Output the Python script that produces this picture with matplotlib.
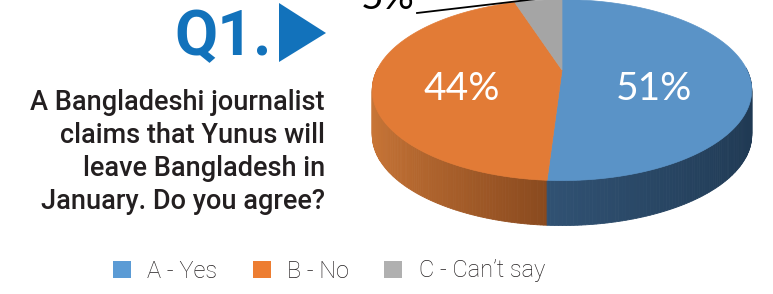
"""
Poll Q1 - 3D style pie (Yunus / January question)
"""

import numpy as np
import matplotlib.pyplot as plt
from matplotlib.patches import Patch, Polygon

# ------------------------------------------------------------
# DATA
# ------------------------------------------------------------
labels = ["A - Yes", "B - No", "C - Can\u2019t say"]
shares = [51, 44, 5]
pct_text = ["51%", "44%", "5%"]
top_colors = ["#5a93c7", "#e27b36", "#a5a5a5"]
legend_colors = ["#5b9bd5", "#ed7d31", "#b0b0b0"]
question = ("A Bangladeshi journalist\nclaims that Yunus will\n"
            "leave Bangladesh in\nJanuary. Do you agree?")

# side shading (light end, dark end) per slice
side_shades = [((0.19, 0.32, 0.45), (0.12, 0.22, 0.32)),
               ((0.80, 0.47, 0.22), (0.54, 0.29, 0.12)),
               ((0.45, 0.45, 0.45), (0.35, 0.35, 0.35))]

# ------------------------------------------------------------
# GEOMETRY (pixel-like axes)
# ------------------------------------------------------------
W, H = 773, 294
cx, cy = 562, 70          # pie centre on screen
rx, ry = 185, 86          # radii of the tilted disc
persp = 0.222             # far side gets squeezed
depth = 45                # thickness of the pie


def proj(t, r=1.0):
    X = r * np.cos(t)
    Z = r * np.sin(t)
    s = 1.0 / (1.0 + persp * Z)
    return cx + rx * X * s, cy - ry * Z * s


fig = plt.figure(figsize=(W / 100, H / 100), dpi=100)
ax = fig.add_axes([0, 0, 1, 1])
ax.set_xlim(0, W)
ax.set_ylim(H, 0)
ax.axis("off")

# slice angles: start at 12 o'clock, go clockwise
fracs = np.array(shares) / np.sum(shares)
starts = np.deg2rad(90) - 2 * np.pi * np.concatenate([[0], np.cumsum(fracs)[:-1]])
ends = starts - 2 * np.pi * fracs

# --- sides (only the front half shows) ---
quads = []
for i, (a0, a1) in enumerate(zip(starts, ends)):
    tt = np.linspace(a0, a1, 200)
    for k in range(len(tt) - 1):
        t0, t1 = tt[k], tt[k + 1]
        tm = 0.5 * (t0 + t1)
        if np.sin(tm) > 0.02:
            continue
        x0, y0 = proj(t0)
        x1, y1 = proj(t1)
        # colour: light at left/front edge, dark towards front / right
        light, dark = side_shades[i]
        if i == 0:
            f = np.clip((np.cos(tm) + 0.06) / 1.06, 0, 1)
        else:
            f = np.clip((np.cos(tm) + 1.0) / 0.94, 0, 1)
        col = tuple(l + (d - l) * f for l, d in zip(light, dark))
        quads.append((np.sin(tm), [(x0, y0), (x1, y1),
                                    (x1, y1 + depth), (x0, y0 + depth)], col))

for _, pts, col in sorted(quads, key=lambda q: -q[0]):
    ax.add_patch(Polygon(pts, closed=True, facecolor=col, edgecolor=col,
                         linewidth=0.6))

# --- top faces ---
for i, (a0, a1) in enumerate(zip(starts, ends)):
    tt = np.linspace(a0, a1, 300)
    xs, ys = proj(tt)
    pts = [(cx, cy)] + list(zip(xs, ys))
    ax.add_patch(Polygon(pts, closed=True, facecolor=top_colors[i],
                         edgecolor=top_colors[i], linewidth=0.5))

# --- value labels ---
ax.text(654, 89, pct_text[0], color="white", fontsize=28, family="Lato",
        ha="center", va="center")
ax.text(462, 89, pct_text[1], color="white", fontsize=28, family="Lato",
        ha="center", va="center")
ax.text(388, -2, pct_text[2], color="black", fontsize=28, family="Lato",
        ha="center", va="center", clip_on=False)
ax.plot([417, 545], [13, -2], color="black", linewidth=1.3)

# --- Q1 heading ---
ax.text(272, 38, "Q1.", color="#1272bb", fontsize=45, fontweight="bold",
        family=["Liberation Sans Narrow", "Roboto"], ha="right", va="center")
ax.add_patch(Polygon([(279, 3), (326, 33), (279, 62)], closed=True,
                     facecolor="#1272bb", edgecolor="none"))

# --- question ---
ax.text(325, 152, question, color="#231f20", fontsize=19.5, family="Roboto",
        fontweight="medium", ha="right", va="center", linespacing=1.3)

# --- legend ---
handles = [Patch(facecolor=c, edgecolor="none") for c in legend_colors]
fig.legend(handles, labels, loc="center", bbox_to_anchor=(329 / W, 1 - 271 / H),
           ncol=3, frameon=False, handlelength=0.75,
           handleheight=0.75, handletextpad=0.7, columnspacing=1.5,
           prop={"family": "Roboto", "weight": "light", "size": 17},
           labelcolor="#231f20")

fig.savefig("out.png", dpi=100)
plt.close(fig)
